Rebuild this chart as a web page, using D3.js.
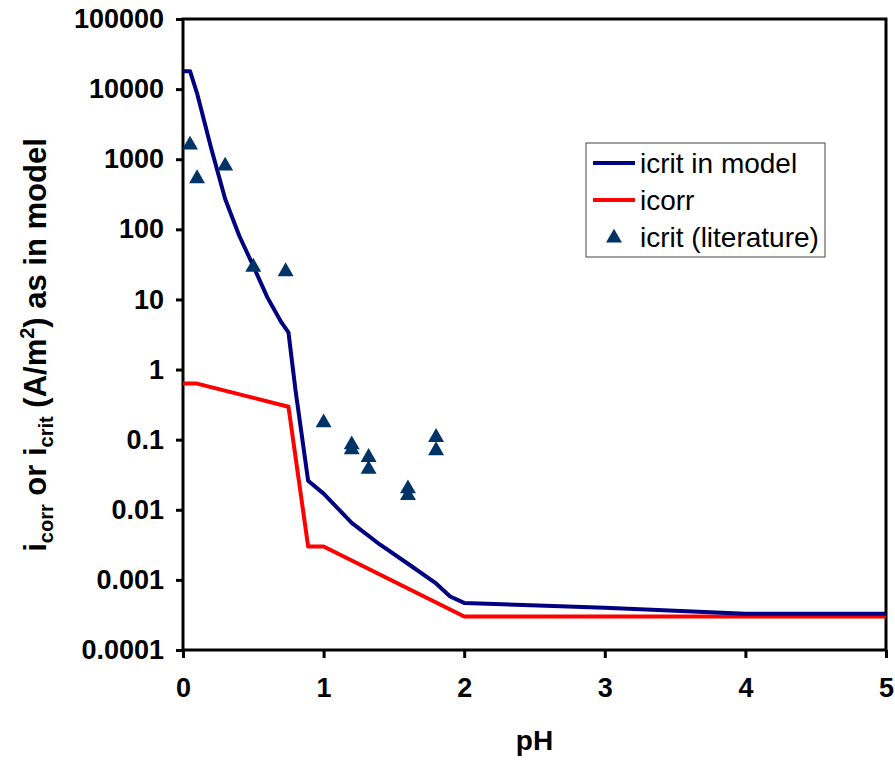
<!DOCTYPE html>
<html>
<head>
<meta charset="utf-8">
<script src="https://cdn.jsdelivr.net/npm/d3@7"></script>
<style>
  body { margin: 0; background: #fff; }
  svg { display: block; font-family: "Liberation Sans", Arial, sans-serif; }
</style>
</head>
<body>
<div id="chart"></div>
<script>
// icrit in model (blue line)
const modelPH = [0, 0.05, 0.1, 0.2, 0.3, 0.4, 0.5, 0.6, 0.7, 0.75, 0.8, 0.89, 1.0, 1.2, 1.4, 1.6, 1.8, 1.9, 2.0, 3, 4, 5];
const modelIcrit = [18000, 18000, 8700, 1450, 270, 81, 30, 10.7, 4.7, 3.4, 0.51, 0.026, 0.017, 0.0065, 0.0032, 0.0017, 0.00089, 0.00058, 0.00047, 0.0004, 0.00033, 0.00033];

// icorr (red line)
const corrPH = [0, 0.1, 0.75, 0.89, 1.0, 2.0, 3, 4, 5];
const corrVal = [0.63, 0.63, 0.295, 0.003, 0.003, 0.0003, 0.0003, 0.0003, 0.0003];

// icrit (literature) points
const litPH = [0.05, 0.1, 0.3, 0.5, 0.73, 1.0, 1.2, 1.2, 1.32, 1.32, 1.6, 1.6, 1.8, 1.8];
const litVal = [1600, 530, 800, 29, 25, 0.175, 0.085, 0.072, 0.056, 0.038, 0.02, 0.016, 0.108, 0.07];

const xTicks = [0, 1, 2, 3, 4, 5];
const yTicks = [0.0001, 0.001, 0.01, 0.1, 1, 10, 100, 1000, 10000, 100000];
const yTickLabels = ["0.0001", "0.001", "0.01", "0.1", "1", "10", "100", "1000", "10000", "100000"];

const legendNames = ["icrit in model", "icorr", "icrit (literature)"];

const width = 895;
const height = 760;
const marginTop = 19;
const marginRight = 9;
const marginBottom = 110;
const marginLeft = 183;

const blue = "#000080";
const red = "#ff0000";
const triColor = "#003366";

const x = d3.scaleLinear([0, 5], [marginLeft, width - marginRight]);
const y = d3.scaleLog([0.0001, 100000], [height - marginBottom, marginTop]);

const svg = d3.select("#chart").append("svg")
    .attr("width", width)
    .attr("height", height);

// plot frame
svg.append("rect")
    .attr("x", x(0))
    .attr("y", y(100000))
    .attr("width", x(5) - x(0))
    .attr("height", y(0.0001) - y(100000))
    .attr("fill", "none")
    .attr("stroke", "#000")
    .attr("stroke-width", 3);

// y axis
const yAxis = svg.append("g")
    .attr("transform", `translate(${marginLeft},0)`)
    .call(d3.axisLeft(y).tickValues(yTicks).tickFormat((d, i) => yTickLabels[i]).tickSize(7).tickPadding(12));
yAxis.select(".domain").remove();
yAxis.selectAll(".tick line").attr("stroke-width", 3);
yAxis.selectAll("text")
    .attr("font-size", 27)
    .attr("font-weight", "bold")
    .attr("font-family", "'Liberation Sans', Arial, sans-serif")
    .attr("fill", "#000");

// x axis
const xAxis = svg.append("g")
    .attr("transform", `translate(0,${height - marginBottom})`)
    .call(d3.axisBottom(x).tickValues(xTicks).tickFormat(d3.format("d")).tickSize(8).tickPadding(20));
xAxis.select(".domain").remove();
xAxis.selectAll(".tick line").attr("stroke-width", 3);
xAxis.selectAll("text")
    .attr("font-size", 27)
    .attr("font-weight", "bold")
    .attr("font-family", "'Liberation Sans', Arial, sans-serif")
    .attr("fill", "#000");

// lines
const line = d3.line().x(d => x(d[0])).y(d => y(d[1]));

svg.append("path")
    .datum(corrPH.map((p, i) => [p, corrVal[i]]))
    .attr("d", line)
    .attr("fill", "none")
    .attr("stroke", red)
    .attr("stroke-width", 4)
    .attr("stroke-linejoin", "round");

svg.append("path")
    .datum(modelPH.map((p, i) => [p, modelIcrit[i]]))
    .attr("d", line)
    .attr("fill", "none")
    .attr("stroke", blue)
    .attr("stroke-width", 4)
    .attr("stroke-linejoin", "round");

// literature triangles
const tri = d3.symbol().type(d3.symbolTriangle).size(110);
svg.append("g")
  .selectAll("path")
  .data(litPH.map((p, i) => [p, litVal[i]]))
  .join("path")
    .attr("d", tri)
    .attr("transform", d => `translate(${x(d[0])},${y(d[1])})`)
    .attr("fill", triColor);

// axis titles
svg.append("text")
    .attr("x", (x(0) + x(5)) / 2)
    .attr("y", 750)
    .attr("text-anchor", "middle")
    .attr("font-size", 28)
    .attr("font-weight", "bold")
    .text("pH");

const yTitle = svg.append("text")
    .attr("transform", "translate(46,345) rotate(-90)")
    .attr("text-anchor", "middle")
    .attr("font-size", 31)
    .attr("font-weight", "bold");
yTitle.append("tspan").text("i");
yTitle.append("tspan").attr("font-size", 20).attr("dy", 7).text("corr");
yTitle.append("tspan").attr("dy", -7).text(" or i");
yTitle.append("tspan").attr("font-size", 20).attr("dy", 7).text("crit");
yTitle.append("tspan").attr("dy", -7).text(" (A/m");
yTitle.append("tspan").attr("font-size", 20).attr("dy", -12).text("2");
yTitle.append("tspan").attr("dy", 12).text(") as in model");

// legend
const legend = svg.append("g").attr("transform", "translate(586,143)");
legend.append("rect")
    .attr("width", 239)
    .attr("height", 114)
    .attr("fill", "#fff")
    .attr("stroke", "#444")
    .attr("stroke-width", 1);

const rows = legend.selectAll("g.item")
  .data(legendNames)
  .join("g")
    .attr("class", "item")
    .attr("transform", (d, i) => `translate(0,${20 + i * 37})`);

rows.filter((d, i) => i < 2).append("line")
    .attr("x1", 7).attr("x2", 49)
    .attr("stroke", (d, i) => i === 0 ? blue : red)
    .attr("stroke-width", 4);

rows.filter((d, i) => i === 2).append("path")
    .attr("d", tri)
    .attr("transform", "translate(28,1)")
    .attr("fill", triColor);

rows.append("text")
    .attr("x", 54)
    .attr("y", 10)
    .attr("font-size", 28)
    .attr("fill", "#000")
    .text(d => d);
</script>
</body>
</html>
